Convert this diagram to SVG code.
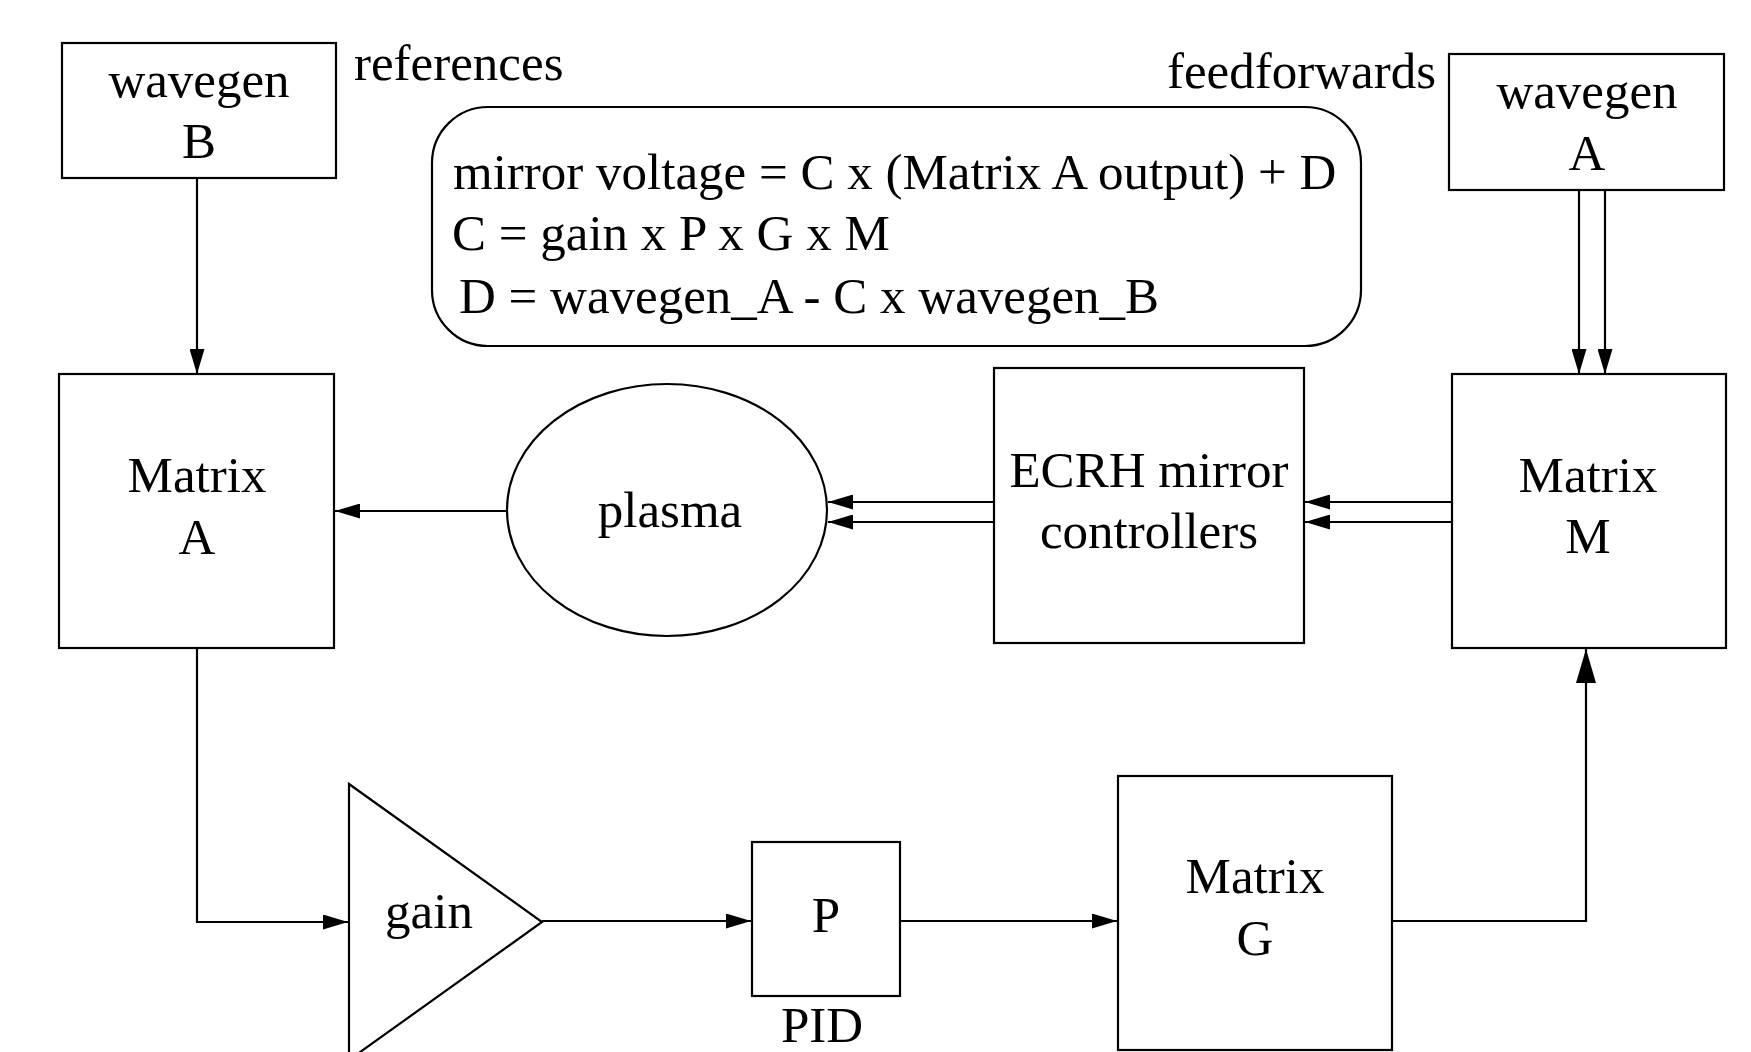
<svg xmlns="http://www.w3.org/2000/svg" width="1751" height="1052" viewBox="0 0 1751 1052">
  <style>
    .box { fill: #ffffff; stroke: #000000; stroke-width: 2.2; }
    .wire { fill: none; stroke: #000000; stroke-width: 2.2; }
    .arrow { marker-end: url(#head); }
    .arrow-big { marker-end: url(#head-big); }
    text { font-family: "Liberation Serif", "Times New Roman", serif; font-size: 51px; fill: #000000; }
    .c { text-anchor: middle; }
  </style>
  <defs>
    <marker id="head" viewBox="0 0 25 15" markerWidth="25" markerHeight="15" refX="25" refY="7.5" orient="auto" markerUnits="userSpaceOnUse">
      <path d="M0,0 L25,7.5 L0,15 Z" fill="#000000"/>
    </marker>
    <marker id="head-big" viewBox="0 0 34 20" markerWidth="34" markerHeight="20" refX="34" refY="10" orient="auto" markerUnits="userSpaceOnUse">
      <path d="M0,0 L34,10 L0,20 Z" fill="#000000"/>
    </marker>
  </defs>

  <rect width="1751" height="1052" fill="#ffffff"/>

  <!-- free labels -->
  <text x="354" y="80">references</text>
  <text x="1167" y="88">feedforwards</text>

  <!-- equation panel -->
  <g id="equations">
    <rect class="box" x="432" y="107" width="929" height="239" rx="56" ry="56" stroke-width="1.6"/>
    <text x="453" y="189">mirror voltage = C x (Matrix A output) + D</text>
    <text x="452" y="250">C = gain x P x G x M</text>
    <text x="459" y="313">D = wavegen_A - C x wavegen_B</text>
  </g>

  <!-- connectors -->
  <g id="connectors">
    <line class="wire arrow" x1="197" y1="178" x2="197" y2="374"/>
    <line class="wire arrow" x1="1579" y1="191" x2="1579" y2="374"/>
    <line class="wire arrow" x1="1605" y1="191" x2="1605" y2="374"/>
    <line class="wire arrow" x1="1452" y1="502" x2="1305" y2="502"/>
    <line class="wire arrow" x1="1452" y1="522" x2="1305" y2="522"/>
    <line class="wire arrow" x1="994" y1="502" x2="828" y2="502"/>
    <line class="wire arrow" x1="994" y1="522" x2="828" y2="522"/>
    <line class="wire arrow" x1="507" y1="511" x2="335" y2="511"/>
    <polyline class="wire arrow" points="197,648 197,922 348,922"/>
    <line class="wire arrow" x1="542" y1="921" x2="751" y2="921"/>
    <line class="wire arrow" x1="900" y1="921" x2="1117" y2="921"/>
    <polyline class="wire arrow-big" stroke-width="2.8" points="1392,921 1586,921 1586,649"/>
  </g>

  <g id="wavegen-b">
    <rect class="box" x="62" y="43" width="274" height="135"/>
    <text class="c" x="199" y="97">wavegen</text>
    <text class="c" x="199" y="158">B</text>
  </g>

  <g id="wavegen-a">
    <rect class="box" x="1449" y="54" width="275" height="136"/>
    <text class="c" x="1587" y="108">wavegen</text>
    <text class="c" x="1587" y="170">A</text>
  </g>

  <g id="matrix-a">
    <rect class="box" x="59" y="374" width="275" height="274"/>
    <text class="c" x="197" y="492">Matrix</text>
    <text class="c" x="197" y="554">A</text>
  </g>

  <g id="plasma">
    <ellipse class="box" cx="667" cy="510" rx="160" ry="126" stroke-width="1.8"/>
    <text class="c" x="670" y="527">plasma</text>
  </g>

  <g id="ecrh">
    <rect class="box" x="994" y="368" width="310" height="275"/>
    <text class="c" x="1149" y="487">ECRH mirror</text>
    <text class="c" x="1149" y="548">controllers</text>
  </g>

  <g id="matrix-m">
    <rect class="box" x="1452" y="374" width="274" height="274"/>
    <text class="c" x="1588" y="492">Matrix</text>
    <text class="c" x="1588" y="553">M</text>
  </g>

  <g id="gain">
    <polygon class="box" points="349,784 542,922 349,1060"/>
    <text class="c" x="429" y="928">gain</text>
  </g>

  <g id="pid">
    <rect class="box" x="752" y="842" width="148" height="154"/>
    <text class="c" x="826" y="932">P</text>
    <text class="c" x="822" y="1042">PID</text>
  </g>

  <g id="matrix-g">
    <rect class="box" x="1118" y="776" width="274" height="274"/>
    <text class="c" x="1255" y="893">Matrix</text>
    <text class="c" x="1255" y="955">G</text>
  </g>
</svg>
